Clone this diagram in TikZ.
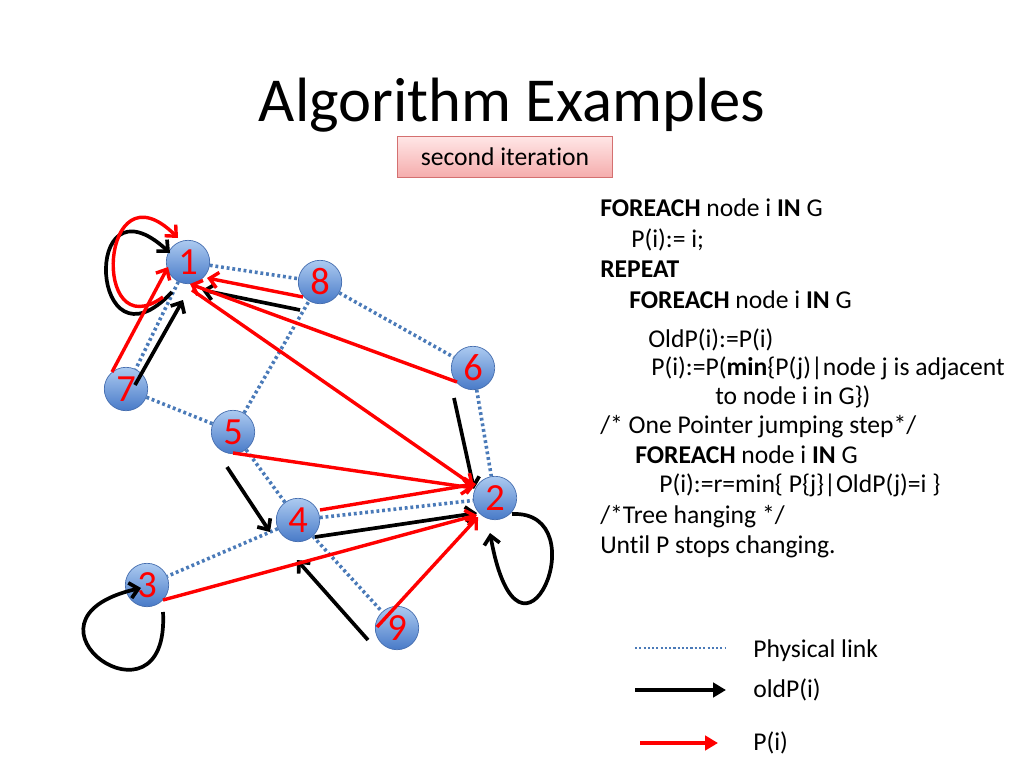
\documentclass[tikz,border=0pt]{standalone}
\usepackage{fontspec}
\setmainfont{Carlito}[Ligatures=NoCommon]
\usetikzlibrary{arrows.meta,calc,positioning}

\definecolor{linkblue}{RGB}{74,122,184}
\definecolor{balltop}{RGB}{172,202,240}
\definecolor{ballbot}{RGB}{72,122,200}
\definecolor{ballrim}{RGB}{70,110,175}
\definecolor{ptrred}{RGB}{255,0,0}
\definecolor{pinktop}{RGB}{255,230,230}
\definecolor{pinkbot}{RGB}{245,172,172}
\definecolor{pinkrim}{RGB}{212,112,112}

\tikzset{
  vert/.style={circle, minimum size=30.5pt, inner sep=0pt, draw=ballrim, line width=0.5pt,
    top color=balltop, bottom color=ballbot, text=ptrred, font=\fontsize{27}{27}\selectfont},
  phys/.style={linkblue, line width=2.5pt, dash pattern=on 2pt off 2pt},
  oldp/.style={black, line width=2.6pt, -{Straight Barb[length=6pt,width=11pt]}},
  newp/.style={ptrred, line width=2.4pt, -{Straight Barb[length=6pt,width=11pt]}},
  code/.style={anchor=base west, inner sep=0pt, font=\fontsize{18}{22}\selectfont},
}

\begin{document}
\begin{tikzpicture}[x=0.703pt, y=-0.703pt]
  \useasboundingbox (0,0) rectangle (1024,768);

  % Title and iteration tag
  \node[anchor=base, inner sep=0pt, font=\fontsize{44}{50}\selectfont] (title) at (512,121) {Algorithm Examples};
  \node[draw=pinkrim, top color=pinktop, bottom color=pinkbot, minimum width=151pt, minimum height=28.8pt,
    inner sep=0pt, font=\fontsize{18}{22}\selectfont] (iter) at (505,157) {second iteration};

  % Graph vertices
  \node[vert] (n1) at (188,262) {1};
  \node[vert] (n8) at (320,282) {8};
  \node[vert] (n6) at (473,368) {6};
  \node[vert] (n7) at (126,389) {7};
  \node[vert] (n5) at (233,432) {5};
  \node[vert] (n2) at (495,498) {2};
  \node[vert] (n4) at (298,520) {4};
  \node[vert] (n3) at (147,585) {3};
  \node[vert] (n9) at (397,628) {9};

  % Physical links
  \draw[phys] (n1) -- (n8);
  \draw[phys] (n8) -- (n6);
  \draw[phys] (n6) -- (n2);
  \draw[phys] (n1) -- (n7);
  \draw[phys] (n7) -- (n5);
  \draw[phys] (n5) -- (n8);
  \draw[phys] (n5) -- (n4);
  \draw[phys] (n4) -- (n2);
  \draw[phys] (n4) -- (n3);
  \draw[phys] (n4) -- (n9);

  % oldP pointers
  \draw[oldp] ($(n1)+(-16,30)$) .. controls ($(n1)+(-98,118)$) and ($(n1)+(-108,-92)$) .. ($(n1)+(-18,-9)$);
  \draw[oldp] ($(n7)+(9,-4)$) -- ($(n1)+(-5,38)$);
  \draw[oldp] ($(n8)+(-20,28)$) -- ($(n1)+(14,28)$);
  \draw[oldp] ($(n6)+(-19,30)$) -- ($(n2)+(-21,-9)$);
  \draw[oldp] ($(n5)+(-6,35)$) -- ($(n4)+(-28,12)$);
  \draw[oldp] ($(n4)+(17,17)$) -- ($(n2)+(-18,15)$);
  \draw[oldp] ($(n9)+(-29,12)$) -- ($(n4)+(-1,40)$);
  \draw[oldp] ($(n2)+(17,16)$) .. controls ($(n2)+(105,12)$) and ($(n2)+(25,202)$) .. ($(n2)+(-5,35)$);
  \draw[oldp] ($(n3)+(16,27)$) .. controls ($(n3)+(23,155)$) and ($(n3)+(-147,35)$) .. ($(n3)+(-6,3)$);

  % P pointers
  \draw[newp] ($(n1)+(-25,35)$) .. controls ($(n1)+(-98,88)$) and ($(n1)+(-88,-102)$) .. ($(n1)+(-10,-24)$);
  \draw[newp] ($(n7)+(-14,-17)$) -- ($(n1)+(-20,5)$);
  \draw[newp] ($(n8)+(-17,15)$) -- ($(n1)+(19,16)$);
  \draw[newp] ($(n6)+(-16,14)$) -- ($(n1)+(2,22)$);
  \draw[newp] ($(n1)+(4,28)$) -- ($(n2)+(-21,-12)$);
  \draw[newp] ($(n5)+(0,21)$) -- ($(n2)+(-22,-10)$);
  \draw[newp] ($(n4)+(22,-10)$) -- ($(n2)+(-19,-14)$);
  \draw[newp] ($(n3)+(16,15)$) -- ($(n2)+(-18,17)$);
  \draw[newp] ($(n9)+(-20,-1)$) -- ($(n2)+(-17,19)$);

  % Algorithm text
  \node[code] (c1) at (600,216) {\textbf{FOREACH} node i \textbf{IN} G};
  \node[code] (c2) at (631,247) {P(i):= i;};
  \node[code] (c3) at (600,277) {\textbf{REPEAT}};
  \node[code] (c4) at (629,308) {\textbf{FOREACH} node i \textbf{IN} G};
  \node[code] (c5) at (648,347) {OldP(i):=P(i)};
  \node[code] (c6) at (651,375) {P(i):=P(\textbf{min}\{P(j)|node j is adjacent};
  \node[code] (c7) at (715,404) {to node i in G\})};
  \node[code] (c8) at (600,433) {/* One Pointer jumping step*/};
  \node[code] (c9) at (635,463) {\textbf{FOREACH} node i \textbf{IN} G};
  \node[code] (c10) at (659,492) {P(i):=r=min\{ P\{j\}|OldP(j)=i \}};
  \node[code] (c11) at (600,523) {/*Tree hanging */};
  \node[code] (c12) at (600,553) {Until P stops changing.};

  % Legend
  \coordinate (lp0) at (635,648);
  \coordinate (lp1) at (725,648);
  \draw[phys, line width=1.8pt, dash pattern=on 1.5pt off 1.5pt] (lp0) -- (lp1);
  \node[code] (lgp) at (753,657) {Physical link};
  \coordinate (lo0) at (635,690);
  \coordinate (lo1) at (726,690);
  \draw[black, line width=2.8pt, -{Triangle[length=9pt,width=10pt]}] (lo0) -- (lo1);
  \node[code] (lgo) at (753,697) {oldP(i)};
  \coordinate (lr0) at (640,743);
  \coordinate (lr1) at (718,743);
  \draw[ptrred, line width=2.8pt, -{Triangle[length=9pt,width=10pt]}] (lr0) -- (lr1);
  \node[code] (lgr) at (753,750) {P(i)};
\end{tikzpicture}
\end{document}
